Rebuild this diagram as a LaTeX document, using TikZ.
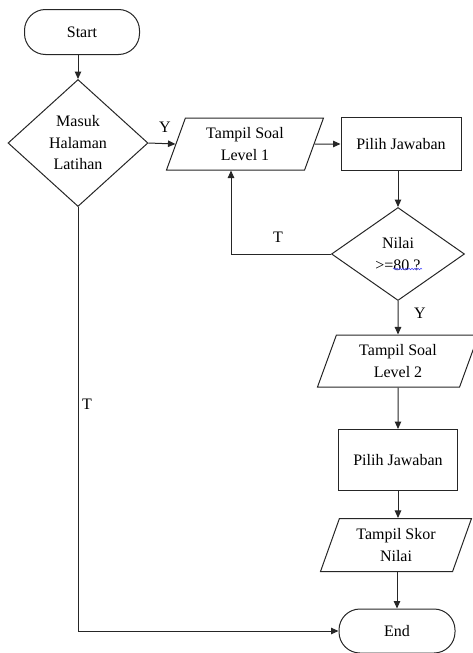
\documentclass[tikz,border=0pt]{standalone}
\usepackage{fontspec}
\setmainfont{Liberation Serif}
\usetikzlibrary{shapes.geometric,arrows.meta,decorations.pathmorphing}
\begin{document}
\begin{tikzpicture}[x=1pt,y=-1pt,
 every node/.style={font=\fontsize{16}{21.5}\selectfont},
 base/.style={draw=black!85, line width=1pt, align=center, inner sep=0pt},
 term/.style={base, rectangle, rounded corners=21pt, minimum width=115pt, minimum height=45pt},
 proc/.style={base, rectangle, minimum width=120pt, minimum height=53pt},
 dec/.style={base, diamond},
 io/.style={base, trapezium, trapezium left angle=60, trapezium right angle=120, trapezium stretches body, minimum width=157pt, minimum height=52pt},
 arr/.style={draw=black!85, line width=1pt, -{Triangle[length=7.5pt,width=6.5pt]}},
 lbl/.style={font=\fontsize{16}{19}\selectfont}
]
\useasboundingbox (0,0) rectangle (472,653);

\node[term] (start) at (82,32) {Start};
\node[dec, minimum width=140pt, minimum height=127pt] (d1) at (78,143) {Masuk\\Halaman\\Latihan};
\node[io] (p1) at (245,144) {Tampil Soal\\Level 1};
\node[proc] (b1) at (401,144) {Pilih Jawaban};
\node[dec, minimum width=133pt, minimum height=93pt] (d2) at (398,254) {Nilai\\>=80 ?};
\node[io, minimum width=161pt] (p2) at (398,361) {Tampil Soal\\Level 2};
\node[proc, minimum width=119pt, minimum height=61pt] (b2) at (398,460) {Pilih Jawaban};
\node[io, minimum width=151pt, minimum height=53pt] (p3) at (396,545) {Tampil Skor\\Nilai};
\node[term, minimum width=116pt, minimum height=44pt] (end) at (397,631) {End};

\draw[blue!75, line width=0.5pt, decorate, decoration={snake, amplitude=0.8pt, segment length=3pt}]
  ([shift={(-5,15)}]d2.center) -- ([shift={(24,15)}]d2.center);

\draw[arr] (start.south -| d1.north) -- (d1.north);
\draw[arr] (d1.east) -- (p1.west);
\node[lbl] (ly1) at (165,127) {Y};
\draw[arr] (p1.east) -- (b1.west);
\draw[arr] (b1.south -| d2.north) -- (d2.north);
\draw[arr] (d2.west) -| ([xshift=-14pt]p1.south);
\node[lbl] (lt1) at (278,237) {T};
\draw[arr] (d2.south) -- (p2.north);
\node[lbl] (ly2) at (420,313) {Y};
\draw[arr] (p2.south) -- (b2.north);
\draw[arr] (b2.south) -- (p3.north -| b2.south);
\draw[arr] (p3.south -| end.north) -- (end.north);
\draw[arr] (d1.south) |- (end.west);
\node[lbl] (lt2) at (87,404) {T};
\end{tikzpicture}
\end{document}
